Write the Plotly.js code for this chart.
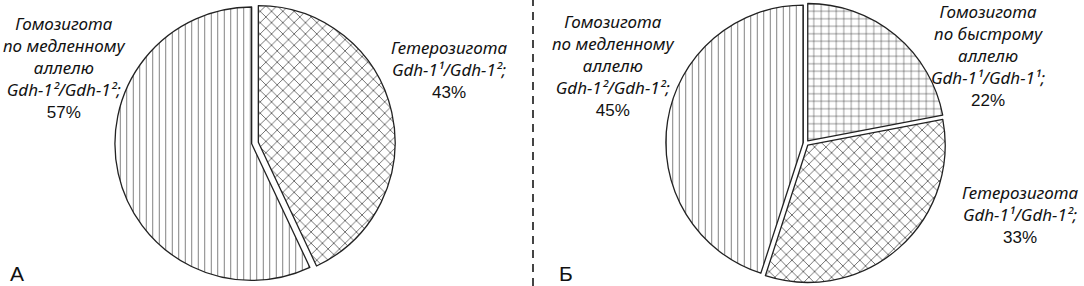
<!DOCTYPE html>
<html>
<head>
<meta charset="utf-8">
<script src="https://cdn.plot.ly/plotly-3.0.1.min.js"></script>
<style>html,body{margin:0;padding:0;background:#fff;}#chart{width:1084px;height:286px;}</style>
</head>
<body>
<div id="chart"></div>
<script>
// ---- data ----
const labelsA = ['Гетерозигота', 'Гомозигота\nпо медленному\nаллелю'];
const genotypesA = ['Gdh-1¹/Gdh-1²', 'Gdh-1²/Gdh-1²'];
const valuesA = [43, 57];

const labelsB = ['Гомозигота\nпо быстрому\nаллелю', 'Гетерозигота', 'Гомозигота\nпо медленному\nаллелю'];
const genotypesB = ['Gdh-1¹/Gdh-1¹', 'Gdh-1¹/Gdh-1²', 'Gdh-1²/Gdh-1²'];
const valuesB = [22, 33, 45];

const panelLabels = ['А', 'Б'];

// ---- styles ----
const W = 1084, H = 286;
const patHet = {shape: 'x', size: 8, solidity: 0.15, fgcolor: '#222'};
const patSlow = {shape: '|', size: 6.5, solidity: 0.15, fgcolor: '#777'};
const patFast = {shape: '+', size: 7.5, solidity: 0.13, fgcolor: '#333'};
const outline = {color: '#222', width: 1.3};
const baseFont = {family: 'Liberation Sans, Arial, sans-serif', size: 17, color: '#111'};

function dom(cx) { return [(cx - 150) / W, (cx + 150) / W]; }
function pat(list) {
  return {shape: list.map(p => p.shape), size: list.map(p => p.size), solidity: list.map(p => p.solidity),
    fgcolor: list.map(p => p.fgcolor), bgcolor: list.map(() => '#fff'), fillmode: 'replace'};
}

const traceA = {
  type: 'pie', values: valuesA, labels: labelsA.map(s => s.replace(/\n/g, ' ')),
  sort: false, direction: 'clockwise', rotation: 0,
  textinfo: 'none', hoverinfo: 'label+percent', showlegend: false,
  pull: [0.025, 0.025],
  domain: {x: dom(255), y: [0.01, 0.99]},
  marker: {colors: ['#fff', '#fff'], line: outline, pattern: pat([patHet, patSlow])}
};
const traceB = {
  type: 'pie', values: valuesB, labels: labelsB.map(s => s.replace(/\n/g, ' ')),
  sort: false, direction: 'clockwise', rotation: 0,
  textinfo: 'none', hoverinfo: 'label+percent', showlegend: false,
  pull: [0.02, 0.02, 0.02],
  domain: {x: dom(806), y: [0.01, 0.99]},
  marker: {colors: ['#fff', '#fff', '#fff'], line: outline, pattern: pat([patFast, patHet, patSlow])}
};

// label blocks: centre x and y of the middle of the block (pixels)
const posA = [[449, 69], [64, 66.5]];
const posB = [[988, 55], [1020, 214], [613, 65]];

function it(s) { return '<span style="font-family:Noto Sans"><i>' + s + '</i></span>'; }

const annotations = [];
function addLabel(name, geno, val, p) {
  const lines = name.split('\n').map(it);
  lines.push(it(geno + ';'));
  lines.push(val + '%');
  annotations.push({
    xref: 'paper', yref: 'paper', x: p[0] / W, y: 1 - p[1] / H,
    xanchor: 'center', yanchor: 'middle', showarrow: false, align: 'center',
    text: lines.join('<br>'), font: baseFont
  });
}
labelsA.forEach((n, i) => addLabel(n, genotypesA[i], valuesA[i], posA[i]));
labelsB.forEach((n, i) => addLabel(n, genotypesB[i], valuesB[i], posB[i]));

const panelX = [17, 566];
panelLabels.forEach((t, i) => annotations.push({
  xref: 'paper', yref: 'paper', x: panelX[i] / W, y: 0,
  xanchor: 'center', yanchor: 'bottom', showarrow: false, text: t, borderpad: 0,
  font: {family: 'Liberation Sans, Arial, sans-serif', size: 21, color: '#111'}
}));

const layout = {
  width: W, height: H, margin: {l: 0, r: 0, t: 0, b: 0},
  paper_bgcolor: '#fff', plot_bgcolor: '#fff', showlegend: false,
  annotations: annotations,
  shapes: [{type: 'line', xref: 'paper', yref: 'paper', x0: 533 / W, x1: 533 / W, y0: 0, y1: 1,
    line: {color: '#444', width: 2, dash: '8px,6px'}}]
};

Plotly.newPlot('chart', [traceA, traceB], layout, {staticPlot: true, displayModeBar: false});
</script>
</body>
</html>
